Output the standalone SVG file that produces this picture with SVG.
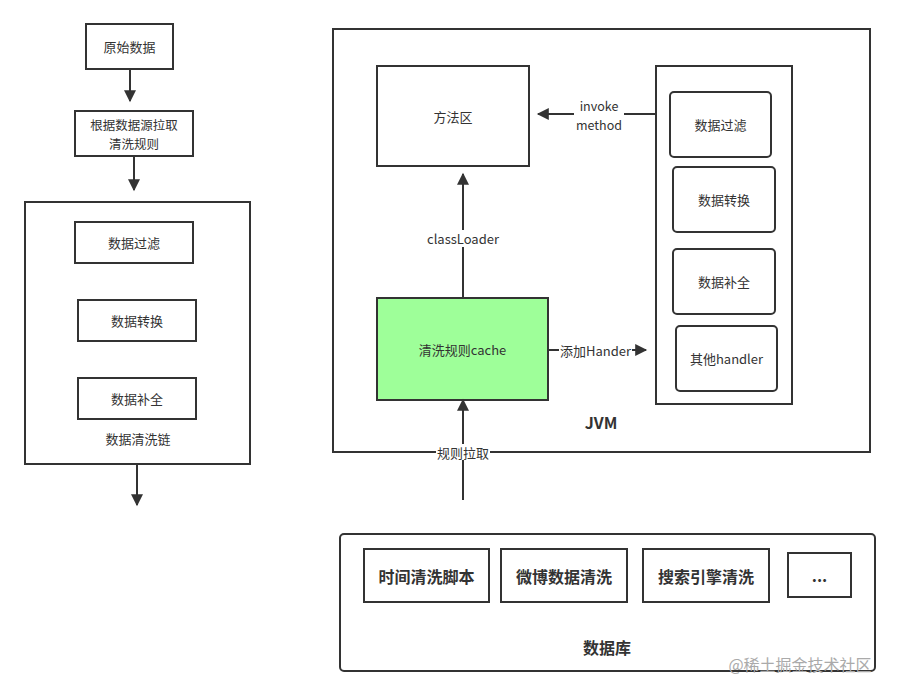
<svg xmlns="http://www.w3.org/2000/svg" width="900" height="696" viewBox="0 0 900 696">
<defs>
<marker id="ah" viewBox="0 0 10 10" refX="9" refY="5" markerWidth="7" markerHeight="6" orient="auto" markerUnits="strokeWidth">
<path d="M0,0 L10,5 L0,10 Z" fill="#333"/>
</marker>
</defs>
<style>
.box{fill:#fff;stroke:#333;stroke-width:2}
.t{font-family:"Noto Sans CJK SC","Liberation Sans",sans-serif;font-size:13px;fill:#333;text-anchor:middle;dominant-baseline:central}
.s{font-size:12.5px}
.b{font-family:"Noto Sans CJK SC","Liberation Sans",sans-serif;font-size:16px;font-weight:bold;fill:#333;text-anchor:middle;dominant-baseline:central}
.ln{stroke:#333;stroke-width:2;fill:none}
.lbl{fill:#fff}
</style>
<rect width="900" height="696" fill="#fff"/>

<g id="left-flow">
<g id="raw"><rect class="box" x="86" y="24" width="87" height="45"/><text class="t" x="129.5" y="46.5">原始数据</text></g>
<g id="pull-rules"><rect class="box" x="75" y="111" width="118" height="45"/><text class="t s" x="134" y="124">根据数据源拉取</text><text class="t s" x="134" y="143">清洗规则</text></g>
<g id="chain"><rect class="box" x="25" y="202" width="225" height="262"/><text class="t" x="138" y="438">数据清洗链</text></g>
<g id="l-filter"><rect class="box" x="75" y="222" width="118" height="41"/><text class="t" x="134" y="242.5">数据过滤</text></g>
<g id="l-convert"><rect class="box" x="78" y="300" width="118" height="41"/><text class="t" x="137" y="320.5">数据转换</text></g>
<g id="l-complete"><rect class="box" x="78" y="378" width="118" height="41"/><text class="t" x="137" y="398.5">数据补全</text></g>
</g>

<g id="jvm"><rect class="box" x="333" y="29" width="537" height="423"/><text class="b" x="601" y="422">JVM</text></g>
<g id="method-area"><rect class="box" x="377" y="66" width="152" height="100"/><text class="t" x="453" y="116">方法区</text></g>
<g id="cache"><rect x="377" y="298" width="171" height="102" fill="#9eff99" stroke="#333" stroke-width="2"/><text class="t" x="462.5" y="349">清洗规则cache</text></g>
<g id="handlers"><rect class="box" x="656" y="66" width="136" height="338"/></g>
<g id="h-filter"><rect class="box" x="670" y="92" width="101" height="65" rx="4"/><text class="t" x="720.5" y="124.5">数据过滤</text></g>
<g id="h-convert"><rect class="box" x="673" y="167" width="102" height="65" rx="4"/><text class="t" x="724" y="199.5">数据转换</text></g>
<g id="h-complete"><rect class="box" x="673" y="249" width="102" height="65" rx="4"/><text class="t" x="724" y="281.5">数据补全</text></g>
<g id="h-other"><rect class="box" x="676" y="326" width="101" height="65" rx="4"/><text class="t" x="726.5" y="358.5">其他handler</text></g>

<g id="db"><rect class="box" x="340" y="534" width="535" height="137" rx="4"/><text class="b" x="607" y="647">数据库</text></g>
<g id="db1"><rect class="box" x="364" y="549" width="125" height="53"/><text class="b" x="426.5" y="576">时间清洗脚本</text></g>
<g id="db2"><rect class="box" x="501" y="549" width="126" height="53"/><text class="b" x="564" y="576">微博数据清洗</text></g>
<g id="db3"><rect class="box" x="643" y="549" width="126" height="53"/><text class="b" x="706" y="576">搜索引擎清洗</text></g>
<g id="db4"><rect class="box" x="788" y="553" width="63" height="44"/><text class="b" x="819.5" y="575">...</text></g>

<g id="connectors">
<line class="ln" x1="130" y1="69" x2="130" y2="101" marker-end="url(#ah)"/>
<line class="ln" x1="134" y1="156" x2="134" y2="190" marker-end="url(#ah)"/>
<line class="ln" x1="137" y1="464" x2="137" y2="505" marker-end="url(#ah)"/>
<line class="ln" x1="656" y1="114" x2="538" y2="114" marker-end="url(#ah)"/>
<rect class="lbl" x="574" y="97" width="50" height="36"/>
<text class="t s" x="599" y="105.5">invoke</text>
<text class="t s" x="599" y="124">method</text>
<line class="ln" x1="463" y1="298" x2="463" y2="174" marker-end="url(#ah)"/>
<rect class="lbl" x="425" y="230" width="76" height="17"/>
<text class="t" x="463" y="238">classLoader</text>
<line class="ln" x1="548" y1="350" x2="646" y2="350" marker-end="url(#ah)"/>
<rect class="lbl" x="559" y="342" width="73" height="17"/>
<text class="t" x="595.5" y="350">添加Hander</text>
<line class="ln" x1="463" y1="500" x2="463" y2="400" marker-end="url(#ah)"/>
<rect class="lbl" x="436" y="444" width="54" height="16"/>
<text class="t" x="463" y="452">规则拉取</text>
</g>

<text x="800" y="664" font-family="Noto Sans CJK SC,sans-serif" font-size="16" fill="#aaa" text-anchor="middle" dominant-baseline="central">@稀土掘金技术社区</text>
</svg>
